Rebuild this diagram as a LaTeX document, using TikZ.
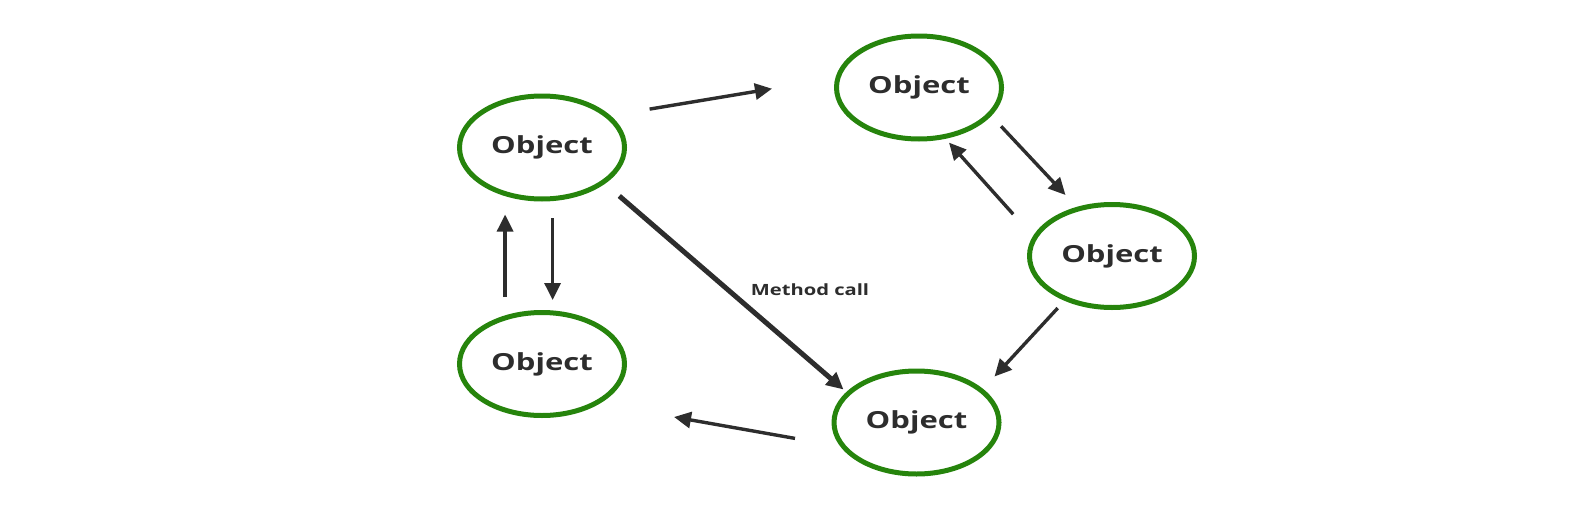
\documentclass[tikz,border=0pt]{standalone}
\usepackage{fontspec}
\setmainfont{Open Sans}
\usepackage{tikz}
\usetikzlibrary{arrows.meta, shapes.geometric}

\definecolor{objgreen}{RGB}{38,132,12}
\definecolor{arrowgray}{RGB}{45,45,45}

\begin{document}
\begin{tikzpicture}[
			x=1pt, y=-1pt,
			obj/.style={
					draw=objgreen,
					ellipse,
					line width=5pt,
					minimum width=165pt,
					minimum height=103pt,
					inner sep=0pt,
					text=arrowgray,
					font=\fontsize{23.5}{25}\selectfont\bfseries
				},
			msgarrow/.style={
			-{Triangle[length=17pt,width=16pt]},
			line width=3.4pt,
			draw=arrowgray
			},
			callarrow/.style={
			-{Triangle[length=17pt,width=16pt]},
			line width=5pt,
			draw=arrowgray
			}
			]

			\useasboundingbox (0,0) rectangle (1584,506);

			% ================= 对象 =================
			\node[obj] (objA) at (542,147.5) {\scalebox{1.32}[1]{Object}};
			\node[obj] (objB) at (919,87.5) {\scalebox{1.32}[1]{Object}};
			\node[obj] (objC) at (1112,256) {\scalebox{1.32}[1]{Object}};
			\node[obj] (objD) at (542,364) {\scalebox{1.32}[1]{Object}};
			\node[obj] (objE) at (916.5,422.5) {\scalebox{1.32}[1]{Object}};

			% ================= 消息箭头端点 =================
			\coordinate (ab1) at (649.6,109.1);
			\coordinate (ab2) at (772,88.7);
			\coordinate (bc1) at (1001.1,126.3);
			\coordinate (bc2) at (1065.5,195);
			\coordinate (cb1) at (1013.2,214.2);
			\coordinate (cb2) at (949,142.6);
			\coordinate (ce1) at (1057.7,308.1);
			\coordinate (ce2) at (994.5,376.5);
			\coordinate (ed1) at (795,438.4);
			\coordinate (ed2) at (674,417);
			\coordinate (da1) at (505.1,297);
			\coordinate (da2) at (505.1,214.5);
			\coordinate (ad1) at (552.6,218.2);
			\coordinate (ad2) at (552.6,300);
			\coordinate (ae1) at (619.3,196);
			\coordinate (ae2) at (843.5,389.5);

			% ================= 消息 =================
			\draw[msgarrow] (ab1) -- (ab2);
			\draw[msgarrow] (bc1) -- (bc2);
			\draw[msgarrow] (cb1) -- (cb2);
			\draw[msgarrow] (ce1) -- (ce2);
			\draw[msgarrow] (ed1) -- (ed2);
			\draw[msgarrow] (da1) -- (da2);
			\draw[msgarrow] (ad1) -- (ad2);

			% 方法调用，粗线
			\draw[callarrow] (ae1) -- (ae2);
			\node[text=arrowgray, font=\fontsize{15.5}{18}\selectfont\bfseries] (calllabel) at (810,290)
			{\scalebox{1.3}[1]{Method call}};

		\end{tikzpicture}
\end{document}
